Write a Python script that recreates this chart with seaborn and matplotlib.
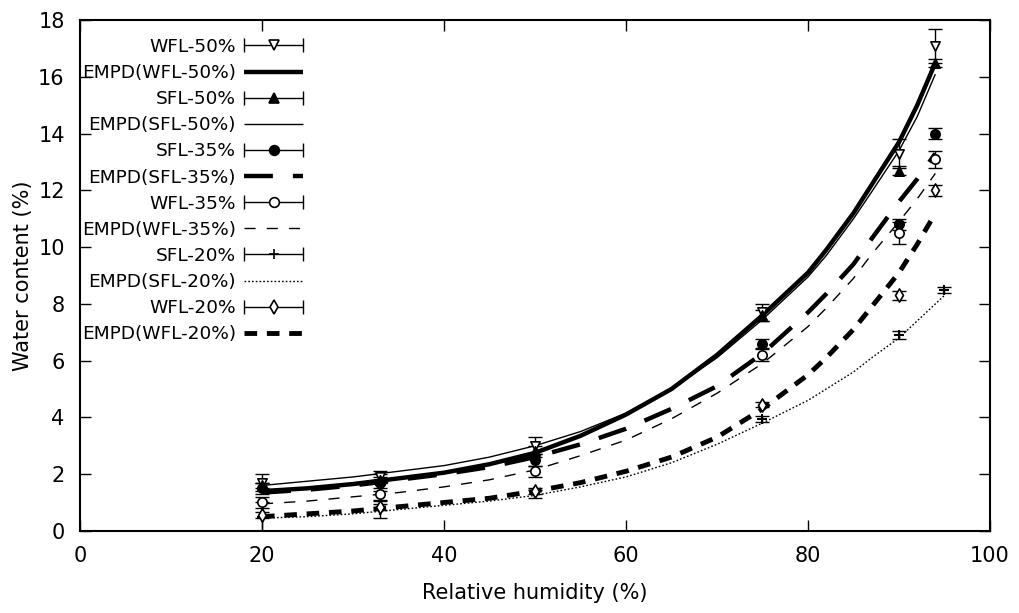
import numpy as np
import pandas as pd
import matplotlib
matplotlib.use('Agg')
import matplotlib.pyplot as plt
import seaborn as sns
from matplotlib.lines import Line2D
from matplotlib.legend_handler import HandlerBase

# - measured points (relative humidity %, water content %) - #
rh = [20, 33, 50, 75, 90, 94]
rh_sfl20 = [20, 33, 50, 75, 90, 95]

wfl50 = [1.7, 1.9, 3.0, 7.7, 13.3, 17.1]
wfl50_err = [0.3, 0.2, 0.3, 0.3, 0.5, 0.6]
sfl50 = [1.6, 1.8, 2.8, 7.6, 12.7, 16.5]
sfl50_err = [0.1, 0.1, 0.2, 0.2, 0.15, 0.15]
sfl35 = [1.5, 1.7, 2.5, 6.6, 10.8, 14.0]
sfl35_err = [0.2, 0.3, 0.2, 0.15, 0.2, 0.2]
wfl35 = [1.0, 1.3, 2.1, 6.2, 10.5, 13.1]
wfl35_err = [0.2, 0.2, 0.2, 0.2, 0.4, 0.3]
sfl20 = [0.5, 0.75, 1.3, 3.95, 6.9, 8.5]
sfl20_err = [0.5, 0.3, 0.15, 0.1, 0.15, 0.1]
wfl20 = [0.55, 0.85, 1.4, 4.45, 8.3, 12.0]
wfl20_err = [0.1, 0.1, 0.1, 0.1, 0.15, 0.2]

# - EMPD model curves - #
rh_fit = [20, 25, 30, 35, 40, 45, 50, 55, 60, 65, 70, 75, 80, 82, 85, 87, 90, 92, 94]
rh_fit_sfl20 = [20, 25, 30, 35, 40, 45, 50, 55, 60, 65, 70, 75, 80, 82, 85, 87, 90, 92, 95]

empd_wfl50 = [1.40, 1.50, 1.65, 1.85, 2.05, 2.35, 2.75, 3.35, 4.10, 5.00, 6.20, 7.60, 9.10, 9.90, 11.2, 12.2, 13.7, 15.0, 16.5]
empd_sfl50 = [1.60, 1.75, 1.90, 2.10, 2.30, 2.60, 3.00, 3.50, 4.15, 5.00, 6.10, 7.45, 8.95, 9.70, 11.0, 11.95, 13.4, 14.6, 16.1]
empd_sfl35 = [1.35, 1.45, 1.60, 1.80, 2.00, 2.25, 2.60, 3.05, 3.60, 4.30, 5.10, 6.25, 7.70, 8.35, 9.40, 10.3, 11.6, 12.4, 13.3]
empd_wfl35 = [0.95, 1.05, 1.20, 1.35, 1.55, 1.80, 2.15, 2.65, 3.20, 3.95, 4.85, 5.90, 7.20, 7.85, 8.90, 9.75, 10.9, 11.7, 12.6]
empd_sfl20 = [0.45, 0.50, 0.60, 0.75, 0.90, 1.05, 1.25, 1.55, 1.90, 2.40, 3.05, 3.80, 4.60, 5.00, 5.60, 6.10, 6.80, 7.40, 8.30]
empd_wfl20 = [0.50, 0.60, 0.70, 0.85, 1.00, 1.15, 1.40, 1.70, 2.10, 2.60, 3.30, 4.30, 5.50, 6.10, 7.10, 7.90, 9.10, 10.1, 11.2]

sns.set_style('ticks')
plt.rcParams['font.family'] = ['DejaVu Sans']
plt.rcParams['text.color'] = 'black'
plt.rcParams['axes.labelcolor'] = 'black'
plt.rcParams['xtick.color'] = 'black'
plt.rcParams['ytick.color'] = 'black'
plt.rcParams['axes.edgecolor'] = 'black'


class CapHandler(HandlerBase):
    # gnuplot style key: horizontal bar with end caps and the marker in the middle
    def create_artists(self, legend, orig_handle, xdescent, ydescent, width, height, fontsize, trans):
        y = height / 2 - ydescent
        x0, x1 = -xdescent, width - xdescent
        bar = Line2D([x0, x1], [y, y], color='k', lw=1)
        caps = Line2D([x0, x1], [y, y], ls='none', marker='|', ms=10, mew=1, color='k')
        mk = Line2D([(x0 + x1) / 2], [y], ls='none', marker=orig_handle.get_marker(),
                    ms=orig_handle.get_markersize(), mfc=orig_handle.get_markerfacecolor(),
                    mec='k', mew=1.2)
        for a in (bar, caps, mk):
            a.set_transform(trans)
        return [bar, caps, mk]


fig, ax = plt.subplots(figsize=(10.19, 6.13), dpi=100)
fig.subplots_adjust(left=0.0785, right=0.9715, bottom=0.134, top=0.967)

points = [
    ('WFL-50%', rh, wfl50, wfl50_err, 'v', 'white'),
    ('SFL-50%', rh, sfl50, sfl50_err, '^', 'black'),
    ('SFL-35%', rh, sfl35, sfl35_err, 'o', 'black'),
    ('WFL-35%', rh, wfl35, wfl35_err, 'o', 'white'),
    ('SFL-20%', rh_sfl20, sfl20, sfl20_err, '+', 'black'),
    ('WFL-20%', rh, wfl20, wfl20_err, 'd', 'white'),
]
curves = [
    ('EMPD(WFL-50%)', rh_fit, empd_wfl50, 3.2, (None, None)),
    ('EMPD(SFL-50%)', rh_fit, empd_sfl50, 1.0, (None, None)),
    ('EMPD(SFL-35%)', rh_fit, empd_sfl35, 3.2, (6.5, 4.5)),
    ('EMPD(WFL-35%)', rh_fit, empd_wfl35, 1.0, (8, 8)),
    ('EMPD(SFL-20%)', rh_fit_sfl20, empd_sfl20, 1.0, (1.2, 1.5)),
    ('EMPD(WFL-20%)', rh_fit, empd_wfl20, 3.5, (2.6, 2.0)),
]

handles = {}
for name, x, y, lw, dash in curves:
    df = pd.DataFrame({'rh': x, 'w': y})
    sns.lineplot(data=df, x='rh', y='w', ax=ax, color='black', lw=lw, legend=False)
    ln = ax.lines[-1]
    if dash[0] is not None:
        ln.set_dashes(dash)
    ln.set_solid_capstyle('butt')
    ln.set_dash_capstyle('butt')
    ln.set_solid_joinstyle('round')
    handles[name] = ln

for name, x, y, err, mk, fc in points:
    ax.errorbar(x, y, yerr=err, fmt='none', ecolor='black', elinewidth=1, capsize=5, capthick=1)
    df = pd.DataFrame({'rh': x, 'w': y})
    sns.scatterplot(data=df, x='rh', y='w', ax=ax, marker=mk, s=45, color=fc,
                    edgecolor='black', linewidth=1.2 if mk != '+' else 1.5, zorder=5)
    handles[name] = Line2D([], [], ls='none', marker=mk, ms=7, mfc=fc, mec='black')

order = ['WFL-50%', 'EMPD(WFL-50%)', 'SFL-50%', 'EMPD(SFL-50%)', 'SFL-35%', 'EMPD(SFL-35%)',
         'WFL-35%', 'EMPD(WFL-35%)', 'SFL-20%', 'EMPD(SFL-20%)', 'WFL-20%', 'EMPD(WFL-20%)']
hmap = {handles[n]: CapHandler() for n, *_ in points}
ax.legend([handles[n] for n in order], order, loc='upper left', bbox_to_anchor=(0.0, 0.969),
          markerfirst=False, frameon=False, fontsize=13.3, handlelength=3.2, handletextpad=0.45,
          labelspacing=0.44, borderaxespad=0.0, borderpad=0.1, handler_map=hmap)

ax.set_xlim(0, 100)
ax.set_ylim(0, 18)
ax.set_xticks(range(0, 101, 20))
ax.set_yticks(range(0, 19, 2))
ax.tick_params(direction='in', length=8, width=1, top=True, right=True, labelsize=15, pad=11)
for s in ax.spines.values():
    s.set_linewidth(1.5)
ax.set_xlabel('Relative humidity (%)', fontsize=15, labelpad=12)
ax.set_ylabel('Water content (%)', fontsize=15, labelpad=4)

fig.savefig('out.png', dpi=100)
